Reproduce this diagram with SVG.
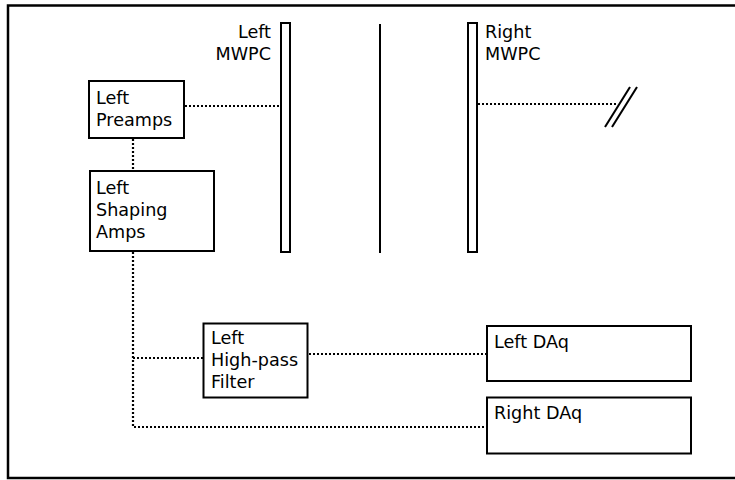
<svg xmlns="http://www.w3.org/2000/svg" width="735" height="480" viewBox="0 0 735 480">
<style>
.box{fill:#fff;stroke:#000;stroke-width:2}
.bar{fill:#fff;stroke:#000;stroke-width:2}
.dot{fill:none;stroke:#000;stroke-width:2.2;stroke-dasharray:2 2}
.solid{fill:none;stroke:#000;stroke-width:2}
text{font-family:"DejaVu Sans",sans-serif;font-size:17.6px;fill:#000}
</style>
<rect x="0" y="0" width="735" height="480" fill="#fff"/>
<rect x="8" y="5.5" width="740" height="472.5" fill="none" stroke="#000" stroke-width="2.5"/>
<g id="connectors">
<line class="dot" x1="185" y1="106" x2="280" y2="106"/>
<line class="dot" x1="133" y1="139" x2="133" y2="171"/>
<line class="dot" x1="478" y1="104" x2="617" y2="104"/>
<polyline class="dot" points="133,252 133,427 487,427"/>
<line class="dot" x1="133" y1="358" x2="203" y2="358"/>
<line class="dot" x1="309" y1="354" x2="487" y2="354"/>
<line class="solid" x1="605" y1="127" x2="630" y2="87"/>
<line class="solid" x1="612" y1="127" x2="637" y2="87"/>
</g>
<g id="left-mwpc">
<rect class="bar" x="281" y="23" width="9" height="229"/>
<text x="271" y="38" text-anchor="end">Left</text>
<text x="271" y="60" text-anchor="end">MWPC</text>
</g>
<g id="center-line">
<line class="solid" x1="380" y1="24" x2="380" y2="253"/>
</g>
<g id="right-mwpc">
<rect class="bar" x="468" y="23" width="9" height="229"/>
<text x="485" y="38">Right</text>
<text x="485" y="60">MWPC</text>
</g>
<g id="left-preamps">
<rect class="box" x="89" y="81" width="95" height="57"/>
<text x="96" y="104">Left</text>
<text x="96" y="126">Preamps</text>
</g>
<g id="left-shaping-amps">
<rect class="box" x="90" y="171" width="124" height="80"/>
<text x="96" y="194">Left</text>
<text x="96" y="216">Shaping</text>
<text x="96" y="238">Amps</text>
</g>
<g id="left-high-pass-filter">
<rect class="box" x="203.5" y="323.5" width="104" height="74"/>
<text x="211" y="344">Left</text>
<text x="211" y="366">High-pass</text>
<text x="211" y="388">Filter</text>
</g>
<g id="left-daq">
<rect class="box" x="487" y="326" width="204" height="55"/>
<text x="494" y="348">Left DAq</text>
</g>
<g id="right-daq">
<rect class="box" x="487" y="397.5" width="204" height="56"/>
<text x="494" y="419">Right DAq</text>
</g>
</svg>
